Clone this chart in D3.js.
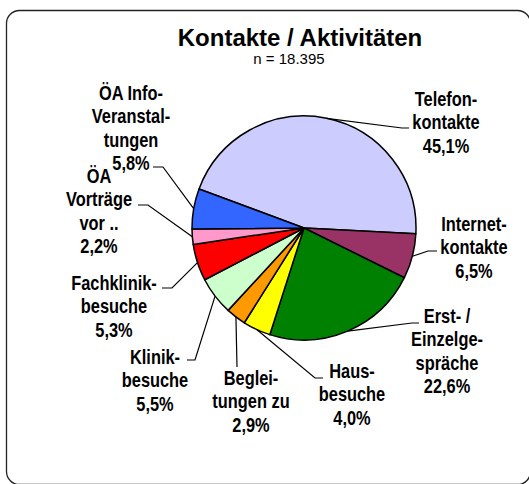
<!DOCTYPE html>
<html>
<head>
<meta charset="utf-8">
<script src="https://cdn.jsdelivr.net/npm/d3@7"></script>
<style>
  body { margin: 0; background: #fff; }
  svg { display: block; }
  .lbl { font-family: "Liberation Sans", Arial, sans-serif; font-weight: bold; font-size: 20px; fill: #000; }
</style>
</head>
<body>
<svg></svg>
<script>
//Chart data
var categories = ["Telefonkontakte", "Internetkontakte", "Erst- / Einzelgespräche", "Hausbesuche",
  "Begleitungen zu", "Klinikbesuche", "Fachklinikbesuche", "ÖA Vorträge vor ..", "ÖA Info-Veranstaltungen"];
var labelLines = [["Telefon-", "kontakte"], ["Internet-", "kontakte"], ["Erst- /", "Einzelge-", "spräche"],
  ["Haus-", "besuche"], ["Beglei-", "tungen zu"], ["Klinik-", "besuche"], ["Fachklinik-", "besuche"],
  ["ÖA", "Vorträge", "vor .."], ["ÖA Info-", "Veranstal-", "tungen"]];
var shares = [45.1, 6.5, 22.6, 4.0, 2.9, 5.5, 5.3, 2.2, 5.8];
var colors = ["#CCCCFF", "#993366", "#008000", "#FFFF00", "#FF9900", "#CCFFCC", "#FF0000", "#FF99CC", "#3366FF"];
var title = "Kontakte / Aktivitäten";
var subtitle = "n = 18.395";

//Layout: label anchor (centre x, first baseline) and leader elbow / end
var labelPos = [[446, 106], [474, 231], [447, 323], [352, 378], [251, 385], [155, 364], [114, 290], [99, 183], [131, 100]];
var leaderPts = [
  [[402, 128], [409, 128]],
  [[428, 251], [437, 251]],
  [[412, 323], [419, 323]],
  [[315, 378], [323, 378]],
  [[237, 367]],
  [[195, 360], [187, 360]],
  [[172, 288], [162, 288]],
  [[148, 205], [138, 205]],
  [[163, 167], [153, 167]]
];

var width = 529;
var height = 484;
var cx = 304, cy = 228, radius = 112;
var lineH = 23.5;
var narrow = 0.82; //labels use a narrow face in the original

var svg = d3.select("svg")
  .attr("width", width)
  .attr("height", height);

//Frame
svg.append("rect")
  .attr("x", 6.5).attr("y", 10.5)
  .attr("width", 524).attr("height", 474)
  .attr("rx", 13).attr("ry", 13)
  .attr("fill", "#fff")
  .attr("stroke", "#222")
  .attr("stroke-width", 1.3);

//Titles
svg.append("text")
  .attr("x", 300).attr("y", 46)
  .attr("text-anchor", "middle")
  .style("font-family", "'Liberation Sans', Arial, sans-serif")
  .style("font-weight", "bold")
  .style("font-size", "24px")
  .text(title);

svg.append("text")
  .attr("x", 289).attr("y", 64)
  .attr("text-anchor", "middle")
  .style("font-family", "'Liberation Sans', Arial, sans-serif")
  .style("font-size", "15px")
  .text(subtitle);

//Pie: first slice starts about 70 degrees left of 12 o'clock
var startA = -69.6 * Math.PI / 180;
var pie = d3.pie().sort(null).value(function(d) { return d; })
  .startAngle(startA).endAngle(startA + 2 * Math.PI);
var arcs = pie(shares);
var arc = d3.arc().innerRadius(0).outerRadius(radius);

var g = svg.append("g").attr("transform", "translate(" + cx + "," + cy + ")");
g.selectAll("path")
  .data(arcs)
  .enter().append("path")
  .attr("d", arc)
  .attr("fill", function(d, i) { return colors[i]; })
  .attr("stroke", "#000")
  .attr("stroke-width", 1.5)
  .attr("stroke-linejoin", "round");

//Leader lines from slice edge at mid angle
svg.selectAll("polyline.leader")
  .data(arcs)
  .enter().append("polyline")
  .attr("class", "leader")
  .attr("fill", "none")
  .attr("stroke", "#000")
  .attr("stroke-width", 1.2)
  .attr("points", function(d, i) {
    var a = (d.startAngle + d.endAngle) / 2;
    var p = [[cx + radius * Math.sin(a), cy - radius * Math.cos(a)]].concat(leaderPts[i]);
    return p.map(function(q) { return q.join(","); }).join(" ");
  });

//Labels
var fmt = function(v) { return v.toFixed(1).replace(".", ",") + "%"; };
svg.selectAll("text.lbl")
  .data(arcs)
  .enter().append("text")
  .attr("class", "lbl")
  .attr("text-anchor", "middle")
  .attr("transform", function(d, i) {
    return "translate(" + labelPos[i][0] + "," + labelPos[i][1] + ") scale(" + narrow + ",1)";
  })
  .each(function(d, i) {
    var t = d3.select(this);
    var lines = labelLines[i].concat([fmt(shares[i])]);
    lines.forEach(function(s, k) {
      t.append("tspan")
        .attr("x", 0)
        .attr("y", k * lineH)
        .text(s);
    });
  });
</script>
</body>
</html>
